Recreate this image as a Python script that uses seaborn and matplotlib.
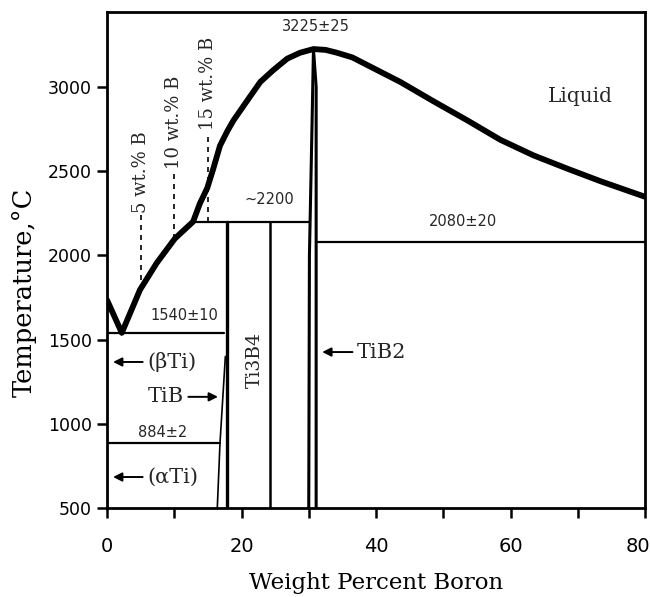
import matplotlib
matplotlib.use("Agg")
import matplotlib.pyplot as plt
from matplotlib.ticker import MultipleLocator, FixedLocator
from matplotlib.transforms import ScaledTranslation
import pandas as pd
import seaborn as sns

# Liquidus of the Ti-B system (wt.% B, deg C)
liquidus_wt = [0, 2.2, 4.9, 7.4, 10.1, 12.8, 13.8, 14.9, 15.8, 16.8, 17.9, 18.8,
               20.8, 22.8, 24.7, 26.8, 28.7, 30.7, 32.5, 34.2, 36.5, 38.7, 43.6,
               48.5, 53.6, 58.5, 63.4, 68.5, 73.4, 80]
liquidus_t = [1735, 1540, 1795, 1955, 2100, 2200, 2307, 2399, 2514, 2651, 2738, 2801,
              2916, 3030, 3099, 3168, 3203, 3225, 3220, 3203, 3175, 3130, 3030,
              2916, 2801, 2686, 2594, 2514, 2440, 2348]

# Invariant reactions
iso_t = [1540, 884, 2200, 2080]
iso_left = [0, 0, 12.8, 31.1]
iso_right = [17.4, 16.8, 30.1, 80]
iso_labels = ["1540\u00b110", "884\u00b12", "~2200", "2080\u00b120"]
iso_label_x = [11.5, 8.2, 24.1, 53.0]
iso_label_t = [1640, 951, 2329, 2204]

# Compound phase boundaries
tib_left_wt = [16.4, 16.8, 17.6]
tib_left_t = [500, 884, 1400]
tib_wt = [17.8, 17.8]
tib_t = [500, 2200]
ti3b4_wt = [24.2, 24.2]
ti3b4_t = [500, 2200]
tib2_left_wt = [30.0, 30.1, 30.3, 30.5, 30.7]
tib2_left_t = [500, 2000, 2400, 2800, 3225]
tib2_right_wt = [31.1, 31.1, 30.7]
tib2_right_t = [500, 3000, 3225]

# Reference compositions
comp_wt = [5, 10, 15]
comp_labels = ["5 wt.% B", "10 wt.% B", "15 wt.% B"]
comp_from_t = [1795, 2100, 2200]
comp_to_t = [2240, 2500, 2735]

peak_label = "3225\u00b125"
x_ticks = [0, 20, 40, 60, 80]
y_ticks = [500, 1000, 1500, 2000, 2500, 3000]

sns.set_theme(style="ticks")
plt.rcParams["font.family"] = ["DejaVu Sans"]

fig = plt.figure(figsize=(6.5, 5.97), dpi=100)
ax = fig.add_axes([107 / 650, 1 - 508 / 597, 538 / 650, 496 / 597])

liq = pd.DataFrame({"wt": liquidus_wt, "T": liquidus_t})
sns.lineplot(data=liq, x="wt", y="T", ax=ax, color="black", lw=4.2,
             estimator=None, sort=False, solid_capstyle="round",
             solid_joinstyle="round")

for t, l, r in zip(iso_t, iso_left, iso_right):
    ax.plot([l, r], [t, t], color="black", lw=1.6)
for lab, lx, lt in zip(iso_labels, iso_label_x, iso_label_t):
    ax.text(lx, lt, lab, ha="center", va="center", fontsize=10.5,
            family="DejaVu Sans")

ax.plot(tib_left_wt, tib_left_t, color="black", lw=1.2)
ax.plot(tib_wt, tib_t, color="black", lw=2.4)
ax.plot(ti3b4_wt, ti3b4_t, color="black", lw=1.8)
ax.plot(tib2_left_wt, tib2_left_t, color="black", lw=2.2)
ax.plot(tib2_right_wt, tib2_right_t, color="black", lw=2.2)

for w, lab, t0, t1 in zip(comp_wt, comp_labels, comp_from_t, comp_to_t):
    ax.plot([w, w], [t0, t1], color="black", lw=1.2, ls=(0, (3, 3)))
    ax.text(w, t1 + 10, lab, rotation=90, ha="center", va="bottom",
            fontsize=13, family="DejaVu Serif")

ax.text(31.0, 3356, peak_label, ha="center", va="center", fontsize=10.5,
        family="DejaVu Sans")

serif = dict(family="DejaVu Serif", fontsize=15)
arrow = dict(arrowstyle="-|>", color="black", lw=1.4, mutation_scale=13,
             shrinkA=1, shrinkB=0)
ax.annotate("(\u03b2Ti)", xy=(0.9, 1367), xytext=(6.0, 1367), ha="left",
            va="center", arrowprops=arrow, **serif)
ax.annotate("(\u03b1Ti)", xy=(0.9, 684), xytext=(6.0, 684), ha="left",
            va="center", arrowprops=arrow, **serif)
ax.annotate("TiB", xy=(16.5, 1160), xytext=(11.4, 1160), ha="right",
            va="center", arrowprops=arrow, **serif)
ax.annotate("TiB2", xy=(32.0, 1426), xytext=(37.2, 1426), ha="left",
            va="center", arrowprops=arrow, **serif)
ax.text(22.0, 1379, "Ti3B4", rotation=90, ha="center", va="center",
        family="DejaVu Serif", fontsize=13.5)
ax.text(70.4, 2941, "Liquid", ha="center", va="center",
        family="DejaVu Serif", fontsize=14.5)

ax.set_xlim(0, 80)
ax.set_ylim(500, 3445)
ax.xaxis.set_major_locator(FixedLocator(x_ticks))
ax.xaxis.set_minor_locator(MultipleLocator(10))
ax.yaxis.set_major_locator(FixedLocator(y_ticks))
ax.set_xticklabels([str(v) for v in x_ticks])
ax.set_yticklabels([str(v) for v in y_ticks])

for side in ["left", "right", "top", "bottom"]:
    ax.spines[side].set_visible(True)
    ax.spines[side].set_linewidth(2.0)
    ax.spines[side].set_color("black")

ax.tick_params(axis="x", which="both", direction="out", length=7, width=1.8,
               colors="black", pad=14, labelsize=14)
ax.tick_params(axis="y", which="major", direction="out", length=7, width=1.8,
               colors="black", pad=4, labelsize=12.5)
for lab in ax.get_xticklabels():
    lab.set_family("DejaVu Sans")
for lab in ax.get_yticklabels():
    lab.set_family("DejaVu Sans")
# pull the last x tick label inside the canvas
last = ax.get_xticklabels()[-1]
last.set_transform(last.get_transform()
                   + ScaledTranslation(-7 / 100, 0, fig.dpi_scale_trans))

ax.set_xlabel("Weight Percent Boron", family="DejaVu Serif", fontsize=16.5,
              color="black")
ax.set_ylabel("Temperature,\u00b0C", family="DejaVu Serif", fontsize=18.5,
              color="black")
ax.xaxis.set_label_coords(0.5, -0.13)
ax.yaxis.set_label_coords(-0.13, 0.435)
ax.grid(False)
ax.set_facecolor("white")
fig.patch.set_facecolor("white")

fig.savefig("out.png", dpi=100)
